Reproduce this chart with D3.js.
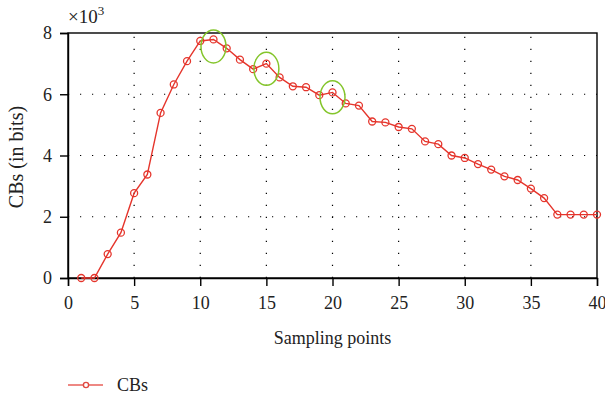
<!DOCTYPE html>
<html>
<head>
<meta charset="utf-8">
<script src="https://cdn.jsdelivr.net/npm/d3@7"></script>
<style>
  body { margin: 0; background: #fff; }
  svg { display: block; font-family: "Liberation Serif", "DejaVu Serif", serif; }
</style>
</head>
<body>
<div id="chart"></div>
<script>
(function(){

const width = 605;
const height = 398;
const margin = {top: 33, right: 8, bottom: 120, left: 68};

// data (values in units of 10^3 bits)
const samplePoints = d3.range(1, 41);
const cbValues = [
  0, 0, 0.78, 1.48, 2.77, 3.38, 5.39, 6.32, 7.08, 7.74,
  7.79, 7.5, 7.13, 6.82, 7.0, 6.55, 6.26, 6.23, 5.97, 6.06,
  5.7, 5.63, 5.11, 5.08, 4.93, 4.87, 4.46, 4.37, 4.0, 3.92,
  3.72, 3.54, 3.32, 3.2, 2.92, 2.61, 2.07, 2.07, 2.07, 2.07
];
const xTicks = [0, 5, 10, 15, 20, 25, 30, 35, 40];
const yTicks = [0, 2, 4, 6, 8];
// highlighted regions: [x, y]
const highlights = [[11, 7.56], [15, 6.83], [20, 5.9]];

const data = samplePoints.map((p, i) => ({x: p, y: cbValues[i]}));

const svg = d3.select("#chart")
  .append("svg")
  .attr("width", width)
  .attr("height", height);

const x = d3.scaleLinear()
  .domain([0, 40])
  .range([margin.left, width - margin.right]);

const y = d3.scaleLinear()
  .domain([0, 8])
  .range([height - margin.bottom, margin.top]);

const serif = "'Liberation Serif', 'DejaVu Serif', serif";

// dotted grid
svg.append("g")
  .selectAll("line")
  .data(xTicks.slice(1, -1))
  .enter()
  .append("line")
  .attr("x1", d => x(d))
  .attr("x2", d => x(d))
  .attr("y1", y(0))
  .attr("y2", y(8))
  .attr("stroke", "#000")
  .attr("stroke-width", 1.2)
  .attr("stroke-dasharray", "1.2,10.8");

svg.append("g")
  .selectAll("line")
  .data(yTicks.slice(1, -1))
  .enter()
  .append("line")
  .attr("x1", x(0))
  .attr("x2", x(40))
  .attr("y1", d => y(d))
  .attr("y2", d => y(d))
  .attr("stroke", "#000")
  .attr("stroke-width", 1.2)
  .attr("stroke-dasharray", "1.2,10.8");

// frame
svg.append("rect")
  .attr("x", x(0))
  .attr("y", y(8))
  .attr("width", x(40) - x(0))
  .attr("height", y(0) - y(8))
  .attr("fill", "none")
  .attr("stroke", "#000")
  .attr("stroke-width", 1.4);

// X axis
const xAxis = svg.append("g")
  .attr("transform", `translate(0,${y(0)})`)
  .call(d3.axisBottom(x).tickValues(xTicks).tickSize(8).tickPadding(10));

// Y axis
const yAxis = svg.append("g")
  .attr("transform", `translate(${x(0)},0)`)
  .call(d3.axisLeft(y).tickValues(yTicks).tickSize(8).tickPadding(8));

[xAxis, yAxis].forEach(g => {
  g.attr("font-family", serif).attr("font-size", 18);
  g.select(".domain").attr("stroke-width", 1.4);
  g.selectAll(".tick line").attr("stroke-width", 1.4);
  g.selectAll(".tick text").attr("fill", "#222");
});

// exponent label
const expo = svg.append("text")
  .attr("x", x(0))
  .attr("y", 23)
  .attr("font-family", serif)
  .attr("font-size", 19)
  .attr("fill", "#222");
expo.append("tspan").text("×10");
expo.append("tspan").attr("dy", -8).attr("font-size", 13).text("3");

// axis titles
svg.append("text")
  .attr("x", (x(0) + x(40)) / 2)
  .attr("y", 344)
  .attr("text-anchor", "middle")
  .attr("font-family", serif)
  .attr("font-size", 18)
  .attr("fill", "#222")
  .text("Sampling points");

svg.append("text")
  .attr("transform", "rotate(-90)")
  .attr("x", -157)
  .attr("y", 23)
  .attr("text-anchor", "middle")
  .attr("font-family", serif)
  .attr("font-size", 20)
  .attr("fill", "#222")
  .text("CBs (in bits)");

// line
const red = "#e5352c";
const line = d3.line()
  .x(d => x(d.x))
  .y(d => y(d.y));

svg.append("path")
  .datum(data)
  .attr("fill", "none")
  .attr("stroke", red)
  .attr("stroke-width", 1.4)
  .attr("d", line);

svg.append("g")
  .selectAll("circle")
  .data(data)
  .enter()
  .append("circle")
  .attr("cx", d => x(d.x))
  .attr("cy", d => y(d.y))
  .attr("r", 3.5)
  .attr("fill", "none")
  .attr("stroke", red)
  .attr("stroke-width", 1.3);

// green ellipses
svg.append("g")
  .selectAll("ellipse")
  .data(highlights)
  .enter()
  .append("ellipse")
  .attr("cx", d => x(d[0]))
  .attr("cy", d => y(d[1]))
  .attr("rx", 12.5)
  .attr("ry", 16.5)
  .attr("fill", "none")
  .attr("stroke", "#84c52b")
  .attr("stroke-width", 1.5);

// legend
const legend = svg.append("g")
  .attr("transform", `translate(${x(0)}, 385)`);

legend.append("line")
  .attr("x1", 0)
  .attr("x2", 35)
  .attr("y1", 0)
  .attr("y2", 0)
  .attr("stroke", "#e8605a")
  .attr("stroke-width", 1.6);

legend.append("circle")
  .attr("cx", 18)
  .attr("cy", 0)
  .attr("r", 2.6)
  .attr("fill", "#fff")
  .attr("stroke", "#e04a42")
  .attr("stroke-width", 1.4);

legend.append("text")
  .attr("x", 49)
  .attr("y", 6)
  .attr("font-family", serif)
  .attr("font-size", 18)
  .attr("fill", "#222")
  .text("CBs");

})();
</script>
</body>
</html>
